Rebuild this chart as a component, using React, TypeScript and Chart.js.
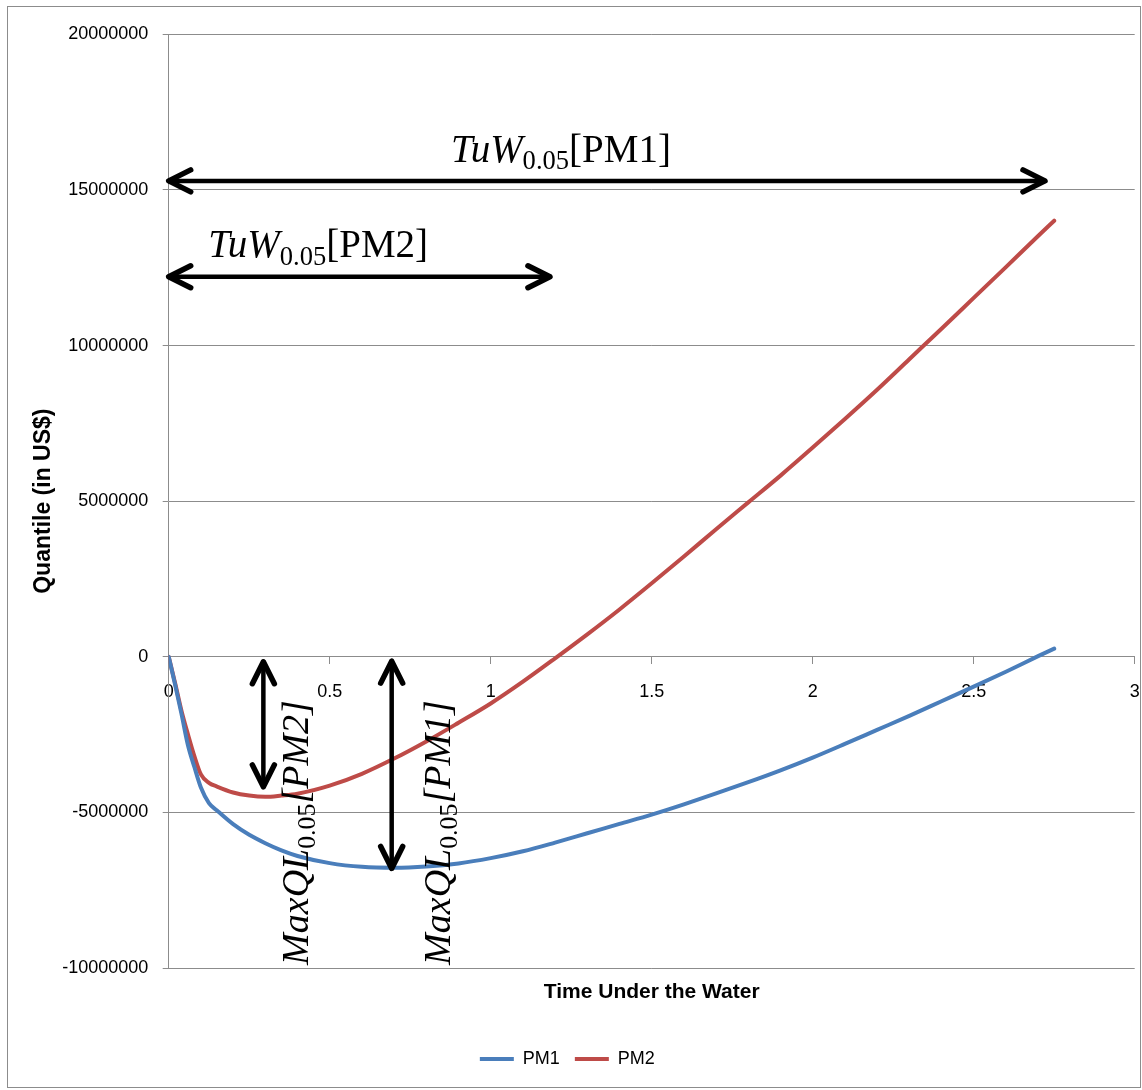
import { useEffect, useRef } from 'react';
import { Chart, registerables } from 'chart.js';

Chart.register(...registerables);

// ---- data ----
const timeUnderWater = [
  0, 0.02, 0.04, 0.06, 0.08, 0.1, 0.125, 0.15, 0.2, 0.25, 0.3, 0.35, 0.4, 0.5, 0.6, 0.7, 0.8, 0.9,
  1.0, 1.1, 1.2, 1.3, 1.4, 1.5, 1.6, 1.7, 1.8, 1.9, 2.0, 2.1, 2.2, 2.3, 2.4, 2.5, 2.6, 2.7, 2.75,
];
const pm1Quantile = [
  0, -900000, -1850000, -2850000, -3550000, -4200000, -4700000, -4940000, -5380000, -5720000,
  -5990000, -6220000, -6400000, -6630000, -6750000, -6780000, -6740000, -6640000, -6470000,
  -6250000, -5970000, -5670000, -5370000, -5070000, -4740000, -4390000, -4030000, -3650000,
  -3240000, -2800000, -2350000, -1900000, -1430000, -960000, -480000, 20000, 260000,
];
const pm2Quantile = [
  0, -850000, -1750000, -2500000, -3200000, -3780000, -4050000, -4170000, -4360000, -4460000,
  -4500000, -4460000, -4400000, -4140000, -3760000, -3270000, -2720000, -2120000, -1500000,
  -800000, -50000, 720000, 1520000, 2360000, 3220000, 4100000, 4960000, 5820000, 6720000,
  7640000, 8580000, 9560000, 10540000, 11530000, 12520000, 13520000, 14010000,
];
const seriesNames = ['PM1', 'PM2'];
const xTickValues = [0, 0.5, 1, 1.5, 2, 2.5, 3];
const yTickValues = [-10000000, -5000000, 0, 5000000, 10000000, 15000000, 20000000];
const xAxisTitle = 'Time Under the Water';
const yAxisTitle = 'Quantile (in US$)';

// ---- styles ----
const SANS = "'Liberation Sans', Arial, sans-serif";
const SERIF = "'Liberation Serif', 'DejaVu Serif', serif";
const GRID = '#8c8c8c';
const BLUE = '#4A7EBB';
const RED = '#BE4B48';

type Run = { t: string; italic?: boolean; sub?: boolean };

function drawRich(ctx: CanvasRenderingContext2D, runs: Run[], x: number, y: number, size: number) {
  let cx = x;
  ctx.fillStyle = '#000';
  ctx.textBaseline = 'alphabetic';
  ctx.textAlign = 'left';
  for (const r of runs) {
    const s = r.sub ? size * 0.68 : size;
    ctx.font = `${r.italic ? 'italic ' : ''}${s}px ${SERIF}`;
    ctx.fillText(r.t, cx, y + (r.sub ? size * 0.19 : 0));
    cx += ctx.measureText(r.t).width;
  }
}

function drawArrow(ctx: CanvasRenderingContext2D, x1: number, y1: number, x2: number, y2: number) {
  ctx.save();
  ctx.strokeStyle = '#000';
  ctx.lineCap = 'round';
  ctx.lineJoin = 'round';
  ctx.lineWidth = 4.5;
  ctx.beginPath();
  ctx.moveTo(x1, y1);
  ctx.lineTo(x2, y2);
  ctx.stroke();
  const head = (tx: number, ty: number, fx: number, fy: number) => {
    const ang = Math.atan2(ty - fy, tx - fx);
    const L = 22;
    const W = 11;
    const bx = tx - L * Math.cos(ang);
    const by = ty - L * Math.sin(ang);
    const px = -Math.sin(ang) * W;
    const py = Math.cos(ang) * W;
    ctx.lineWidth = 5.5;
    ctx.beginPath();
    ctx.moveTo(bx + px, by + py);
    ctx.lineTo(tx, ty);
    ctx.lineTo(bx - px, by - py);
    ctx.stroke();
  };
  head(x2, y2, x1, y1);
  head(x1, y1, x2, y2);
  ctx.restore();
}

const frameAndAnnotations = {
  id: 'frameAndAnnotations',
  beforeDraw(chart: any) {
    const { ctx, width, height } = chart;
    ctx.save();
    ctx.fillStyle = '#fff';
    ctx.fillRect(0, 0, width, height);
    ctx.strokeStyle = GRID;
    ctx.lineWidth = 1;
    ctx.strokeRect(7.5, 6.5, 1133, 1081);
    ctx.restore();
  },
  afterDatasetsDraw(chart: any) {
    const { ctx } = chart;
    const xs = chart.scales.x;
    const ys = chart.scales.y;
    const px = (v: number) => xs.getPixelForValue(v);
    const py = (v: number) => ys.getPixelForValue(v);
    ctx.save();
    // horizontal arrows (time under water)
    drawArrow(ctx, px(0), py(15290000), px(2.7214), py(15290000));
    drawArrow(ctx, px(0), py(12210000), px(1.184), py(12210000));
    // vertical arrows (max quantile loss)
    drawArrow(ctx, px(0.294), py(-160000), px(0.294), py(-4180000));
    drawArrow(ctx, px(0.6925), py(-140000), px(0.6925), py(-6800000));

    const size = 39;
    drawRich(ctx, [{ t: 'TuW', italic: true }, { t: '0.05', sub: true }, { t: '[PM1]' }], px(0.877), py(15900000), size);
    drawRich(ctx, [{ t: 'TuW', italic: true }, { t: '0.05', sub: true }, { t: '[PM2]' }], px(0.123), py(12830000), size);

    const rotated = (label: string, bx: number) => {
      ctx.save();
      ctx.translate(px(bx), py(-9900000));
      ctx.rotate(-Math.PI / 2);
      drawRich(ctx, [{ t: 'MaxQL', italic: true }, { t: '0.05', sub: true }, { t: `[${label}]`, italic: true }], 0, 0, 38);
      ctx.restore();
    };
    rotated('PM2', 0.4326);
    rotated('PM1', 0.874);
    ctx.restore();
  },
};

export default function App() {
  const ref = useRef<HTMLCanvasElement>(null);
  useEffect(() => {
    if (!ref.current) return;
    const tickFont = { family: SANS, size: 18 };
    const legendFont = { family: SANS, size: 18 };
    const xTitleFont = { family: SANS, size: 21, weight: 'bold' as const };
    const yTitleFont = { family: SANS, size: 23, weight: 'bold' as const };
    const chart = new Chart(ref.current, {
      type: 'line',
      data: {
        datasets: [
          {
            label: seriesNames[0],
            data: timeUnderWater.map((t, i) => ({ x: t, y: pm1Quantile[i] })),
            borderColor: BLUE,
            backgroundColor: BLUE,
            borderWidth: 4,
            borderCapStyle: 'round',
            pointRadius: 0,
            cubicInterpolationMode: 'monotone',
          },
          {
            label: seriesNames[1],
            data: timeUnderWater.map((t, i) => ({ x: t, y: pm2Quantile[i] })),
            borderColor: RED,
            backgroundColor: RED,
            borderWidth: 4,
            borderCapStyle: 'round',
            pointRadius: 0,
            cubicInterpolationMode: 'monotone',
          },
        ],
      },
      options: {
        responsive: false,
        animation: false,
        devicePixelRatio: 1,
        layout: { padding: { left: 0, right: 7.3, top: 34.3, bottom: 12 } },
        plugins: {
          legend: {
            position: 'bottom',
            labels: {
              usePointStyle: true,
              pointStyle: 'line',
              pointStyleWidth: 34,
              padding: 15,
              color: '#000',
              font: legendFont,
            },
          },
          tooltip: { enabled: false },
        },
        scales: {
          x: {
            type: 'linear',
            position: { y: 0 },
            min: xTickValues[0],
            max: xTickValues[xTickValues.length - 1],
            afterBuildTicks: (s: any) => {
              s.ticks = xTickValues.map((v) => ({ value: v }));
            },
            afterFit: (s: any) => {
              s.paddingLeft = 0;
              s.paddingRight = 0;
            },
            ticks: {
              padding: 17,
              color: '#000',
              font: tickFont,
              maxRotation: 0,
              autoSkip: false,
              callback: (v: any) => String(v),
            },
            grid: { drawOnChartArea: false, drawTicks: true, tickLength: 7, color: GRID },
            border: { color: GRID, width: 1 },
          },
          x2: {
            type: 'linear',
            position: 'bottom',
            min: 0,
            max: 3,
            ticks: { display: false },
            grid: { display: false, drawTicks: false },
            border: { display: false },
            title: {
              display: true,
              text: xAxisTitle,
              color: '#000',
              font: xTitleFont,
              padding: { top: 11.9, bottom: 29.9 },
            },
          },
          y: {
            type: 'linear',
            position: 'left',
            min: yTickValues[0],
            max: yTickValues[yTickValues.length - 1],
            afterBuildTicks: (s: any) => {
              s.ticks = yTickValues.map((v) => ({ value: v }));
            },
            afterFit: (s: any) => {
              s.width = 168.7;
            },
            ticks: {
              padding: 14.4,
              color: '#000',
              font: tickFont,
              callback: (v: any) => String(v),
            },
            grid: { color: GRID, tickLength: 6, drawTicks: true },
            border: { color: GRID, width: 1 },
            title: {
              display: true,
              text: yAxisTitle,
              color: '#000',
              font: yTitleFont,
              padding: { top: 30.2, bottom: 0 },
            },
          },
        },
      },
      plugins: [frameAndAnnotations],
    } as any);
    return () => chart.destroy();
  }, []);
  return (
    <div style={{ position: 'absolute', left: 0, top: 0, width: 1142, height: 1090 }}>
      <canvas ref={ref} width={1142} height={1090} style={{ display: 'block' }} />
    </div>
  );
}
